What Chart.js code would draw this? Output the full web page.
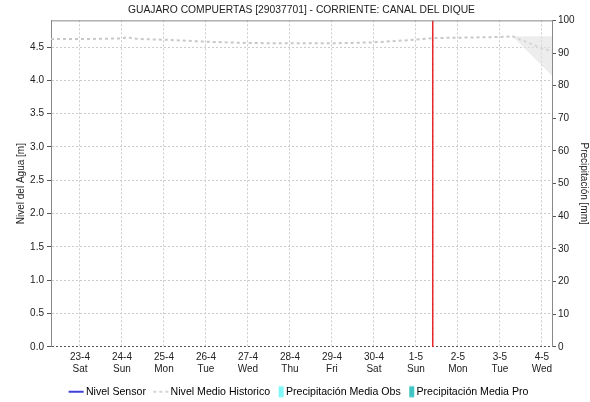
<!DOCTYPE html>
<html>
<head>
<meta charset="utf-8">
<script src="https://cdn.jsdelivr.net/npm/chart.js@4.4.0/dist/chart.umd.min.js"></script>
<style>
  body { margin: 0; background: #fff; }
</style>
</head>
<body>
<canvas id="nivelChart" width="590" height="402"></canvas>
<script>
// days counted from 23-4 (day 0)
const dayLabels = ['23-4', '24-4', '25-4', '26-4', '27-4', '28-4', '29-4', '30-4', '1-5', '2-5', '3-5', '4-5'];
const weekDays = ['Sat', 'Sun', 'Mon', 'Tue', 'Wed', 'Thu', 'Fri', 'Sat', 'Sun', 'Mon', 'Tue', 'Wed'];

const histDays = [-0.69, 0.2, 1.0, 1.12, 1.4, 2.0, 3.0, 4.0, 5.0, 6.0, 7.0, 7.5, 8.0, 8.4, 9.0, 10.0, 10.3, 11.0, 11.24];
const histLevel = [4.62, 4.62, 4.63, 4.645, 4.62, 4.61, 4.58, 4.56, 4.555, 4.555, 4.57, 4.59, 4.61, 4.635, 4.64, 4.65, 4.66, 4.48, 4.44];

const bandDays = [10.3, 11.24];
const bandUpper = [4.66, 4.66];
const bandLower = [4.66, 4.07];

const sensorDays = [];
const sensorLevel = [];
const precipObs = [];
const precipPro = [];

const nowDay = 8.4;

function toPoints(xs, ys) {
    return xs.map(function(x, i) { return {x: x, y: ys[i]}; });
}

// legend symbols, drawn a bit off-centre so lines and boxes sit like the original
function legendSymbol(kind, color) {
    let c = document.createElement('canvas');
    c.width = 30;
    c.height = 14;
    let g = c.getContext('2d');
    if (kind === 'line' || kind === 'dash') {
        g.strokeStyle = color;
        g.lineWidth = 1.5;
        if (kind === 'dash') g.setLineDash([3, 3]);
        g.beginPath();
        g.moveTo(6, 7);
        g.lineTo(21, 7);
        g.stroke();
    } else {
        g.fillStyle = color;
        g.fillRect(16, 1.5, 5, 11);
    }
    return c;
}

const plotBorder = {
    id: 'plotBorder',
    afterDraw(chart) {
        let a = chart.chartArea;
        let ctx = chart.ctx;
        ctx.save();
        ctx.strokeStyle = '#888';
        ctx.lineWidth = 1;
        ctx.beginPath();
        ctx.moveTo(a.left, a.top + 0.5);
        ctx.lineTo(a.right, a.top + 0.5);
        ctx.stroke();
        ctx.restore();
    }
};

let ctx = document.getElementById('nivelChart').getContext('2d');
let nivelChart = new Chart(ctx, {
    type: 'line',
    data: {
        datasets: [{
            label: 'bandUpper',
            data: toPoints(bandDays, bandUpper),
            borderWidth: 0,
            pointRadius: 0,
            fill: false,
            yAxisID: 'y'
        }, {
            label: 'bandLower',
            data: toPoints(bandDays, bandLower),
            borderWidth: 0,
            pointRadius: 0,
            backgroundColor: 'rgba(225,225,225,0.6)',
            fill: '-1',
            yAxisID: 'y'
        }, {
            label: 'Nivel Medio Historico',
            data: toPoints(histDays, histLevel),
            borderColor: '#c8c8c8',
            borderWidth: 2,
            borderDash: [3, 3],
            pointRadius: 0,
            fill: false,
            yAxisID: 'y'
        }, {
            label: 'Nivel Sensor',
            data: toPoints(sensorDays, sensorLevel),
            borderColor: '#0000cc',
            borderWidth: 1.5,
            pointRadius: 0,
            yAxisID: 'y'
        }, {
            type: 'bar',
            label: 'Precipitación Media Obs',
            data: precipObs,
            backgroundColor: '#7ff7f7',
            yAxisID: 'y2'
        }, {
            type: 'bar',
            label: 'Precipitación Media Pro',
            data: precipPro,
            backgroundColor: '#3fc4c4',
            yAxisID: 'y2'
        }, {
            label: 'ahora',
            data: [{x: nowDay, y: 0}, {x: nowDay, y: 4.9}],
            borderColor: '#e8262b',
            borderWidth: 1.5,
            pointRadius: 0,
            yAxisID: 'y'
        }, {
            label: 'ahora2',
            data: [{x: nowDay, y: 0}, {x: nowDay, y: 4.9}],
            borderColor: '#7a1010',
            borderWidth: 1,
            borderDash: [1, 5],
            pointRadius: 0,
            yAxisID: 'y'
        }]
    },
    options: {
        responsive: false,
        animation: false,
        layout: { padding: { top: 0, left: 0, right: 0, bottom: -5 } },
        scales: {
            x: {
                type: 'linear',
                min: -0.69,
                max: 11.24,
                offset: false,
                border: { display: false, dash: [2, 2] },
                grid: {
                    offset: false,
                    color: '#cccccc',
                    drawTicks: false
                },
                ticks: {
                    stepSize: 1,
                    includeBounds: false,
                    autoSkip: false,
                    maxRotation: 0,
                    padding: 4,
                    color: '#222',
                    font: { family: 'Liberation Sans', size: 10 },
                    callback: function(v) {
                        return [dayLabels[v], weekDays[v]];
                    }
                },
                afterFit: function(scale) { scale.height = 35; }
            },
            y: {
                position: 'left',
                min: 0,
                max: 4.9,
                border: { color: '#888', dash: [2, 2] },
                grid: {
                    color: function(c) { return c.tick && c.tick.value === 0 ? '#555' : '#cccccc'; },
                    tickColor: '#555',
                    tickBorderDash: [],
                    tickLength: 4
                },
                ticks: {
                    stepSize: 0.5,
                    includeBounds: false,
                    padding: 3,
                    color: '#222',
                    font: { family: 'Liberation Sans', size: 10 },
                    callback: function(v) { return v.toFixed(1); }
                },
                title: {
                    display: true,
                    text: 'Nivel del Agua [m]',
                    color: '#222',
                    font: { family: 'Liberation Sans', size: 10 },
                    padding: { top: 15, bottom: 0 }
                },
                afterFit: function(scale) { scale.width = 51; }
            },
            y2: {
                position: 'right',
                min: 0,
                max: 100,
                border: { color: '#888' },
                grid: {
                    drawOnChartArea: false,
                    tickColor: '#555',
                    tickLength: 4
                },
                ticks: {
                    stepSize: 10,
                    padding: 2,
                    color: '#222',
                    font: { family: 'Liberation Sans', size: 10 }
                },
                title: {
                    display: true,
                    text: 'Precipitación [mm]',
                    color: '#222',
                    font: { family: 'Liberation Sans', size: 10 },
                    padding: { top: 0, bottom: 3 }
                },
                afterFit: function(scale) { scale.width = 38; }
            }
        },
        plugins: {
            title: {
                display: true,
                fullSize: false,
                text: 'GUAJARO COMPUERTAS [29037701] - CORRIENTE: CANAL DEL DIQUE',
                color: '#222',
                font: { family: 'Liberation Sans', size: 10.3, weight: 'normal' },
                padding: { top: 4, bottom: 4 }
            },
            legend: {
                position: 'bottom',
                fullSize: false,
                labels: {
                    usePointStyle: true,
                    pointStyleWidth: 6,
                    padding: 4.5,
                    color: '#222',
                    font: { family: 'Liberation Sans', size: 10.6 },
                    generateLabels: function() {
                        return [
                            { text: 'Nivel Sensor   ', pointStyle: legendSymbol('line', '#0000cc'), lineWidth: 0 },
                            { text: 'Nivel Medio Historico', pointStyle: legendSymbol('dash', '#c8c8c8'), lineWidth: 0 },
                            { text: 'Precipitación Media Obs', pointStyle: legendSymbol('box', '#7ff7f7'), lineWidth: 0 },
                            { text: 'Precipitación Media Pro', pointStyle: legendSymbol('box', '#3fc4c4'), lineWidth: 0 }
                        ];
                    }
                }
            },
            tooltip: { enabled: false }
        }
    },
    plugins: [plotBorder]
});
</script>
</body>
</html>
